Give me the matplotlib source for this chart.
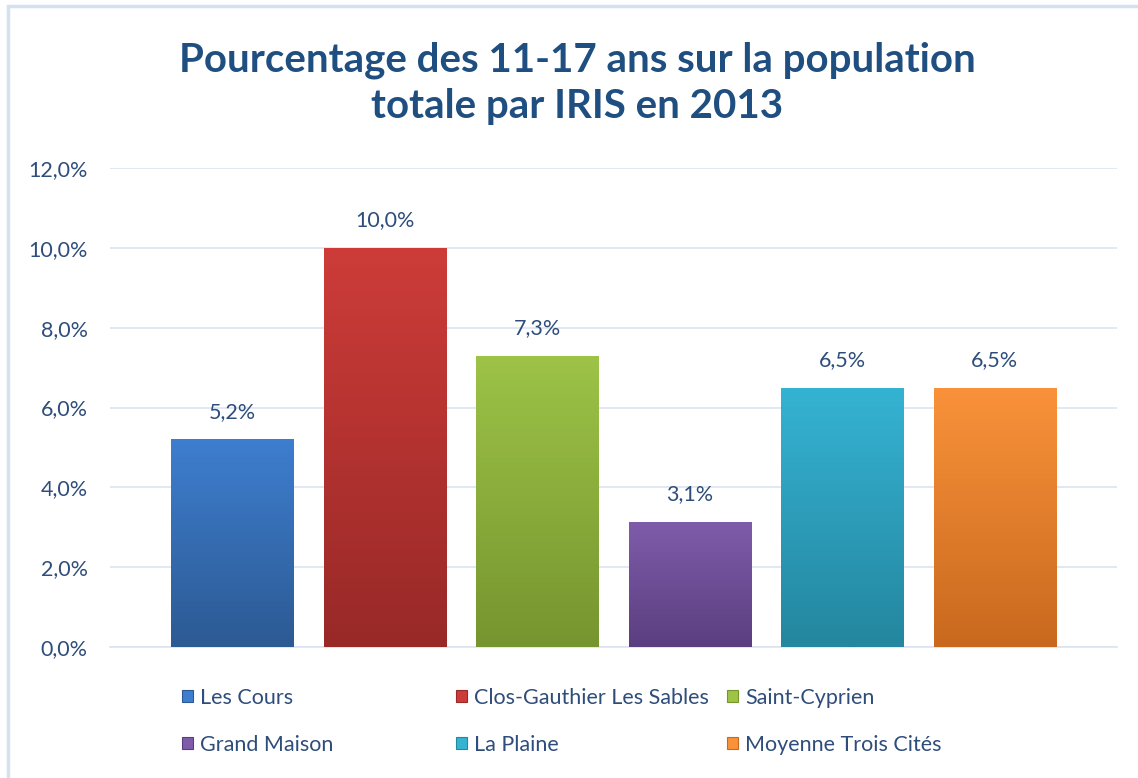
import numpy as np
import matplotlib.pyplot as plt
from matplotlib.colors import LinearSegmentedColormap
from matplotlib.patches import Rectangle

# data
iris = ['Les Cours', 'Clos-Gauthier Les Sables', 'Saint-Cyprien',
        'Grand Maison', 'La Plaine', 'Moyenne Trois Cités']
pct = [5.2, 10.0, 7.3, 3.13, 6.5, 6.5]
pct_labels = ['5,2%', '10,0%', '7,3%', '3,1%', '6,5%', '6,5%']
yticks = [0, 2, 4, 6, 8, 10, 12]
ytick_labels = ['0,0%', '2,0%', '4,0%', '6,0%', '8,0%', '10,0%', '12,0%']

# gradient top / bottom colours for each bar
top_cols = ['#3E7ECF', '#CD3C39', '#9DC347', '#7F5CAA', '#35B3D3', '#F9923A']
bot_cols = ['#2C5A93', '#982927', '#76952F', '#5B3E80', '#24869F', '#C9691E']

txt_col = '#2E4D7B'
title_col = '#1F4E80'
grid_col = '#DCE4F1'
fs = 15.5

plt.rcParams['font.family'] = ['Lato', 'DejaVu Sans']

fig = plt.figure(figsize=[11.38, 7.78], dpi=100)
ax = fig.add_axes([0.0967, 0.1684, 0.8848, 0.6156])

x = np.arange(len(iris))
bars = ax.bar(x, pct, width=0.8, color='none', zorder=3)

grad = np.linspace(0, 1, 256).reshape(-1, 1)
for b, c1, c2 in zip(bars, top_cols, bot_cols):
    cmap = LinearSegmentedColormap.from_list('g', [c2, c1])
    x0, y0 = b.get_x(), b.get_y()
    im = ax.imshow(grad, cmap=cmap, aspect='auto', origin='lower',
                   extent=[x0, x0 + b.get_width(), y0, y0 + b.get_height()],
                   zorder=3)
    im.set_clip_path(b)

for xi, v, lab in zip(x, pct, pct_labels):
    ax.annotate(lab, (xi, v), xytext=(0, 20), textcoords='offset points',
                ha='center', va='center', color=txt_col, fontsize=fs)

ax.set_xlim(-0.8, 5.8)
ax.set_ylim(0, 12)
ax.set_yticks(yticks)
ax.set_yticklabels(ytick_labels)
ax.set_xticks([])
ax.tick_params(axis='y', length=0, pad=16, labelsize=fs, labelcolor=txt_col)
ax.grid(axis='y', color=grid_col, linewidth=1.2, zorder=0)
for s in ['top', 'right', 'left']:
    ax.spines[s].set_visible(False)
ax.spines['bottom'].set_color(grid_col)
ax.spines['bottom'].set_linewidth(1.2)

fig.text(0.507, 0.893, 'Pourcentage des 11-17 ans sur la population\ntotale par IRIS en 2013',
         ha='center', va='center', fontsize=29, fontweight='bold',
         color=title_col, linespacing=1.32)

# legend, placed entry by entry like the Excel layout
leg_x = [182, 456, 727, 182, 456, 727]
leg_y = [698, 698, 698, 745, 745, 745]
for name, c1, c2, lx, ly in zip(iris, top_cols, bot_cols, leg_x, leg_y):
    h = Rectangle((0, 0), 1, 1, facecolor=c1, edgecolor=c2, linewidth=0.8)
    fig.legend([h], [name], loc='center left',
               bbox_to_anchor=(lx / 1138, 1 - ly / 778),
               frameon=False, fontsize=fs, labelcolor=txt_col,
               handlelength=0.5, handleheight=0.5, handletextpad=0.35,
               borderpad=0, borderaxespad=0)

# chart border
fig.patches.append(Rectangle((8 / 1138, -0.05), 1.1, 1 - 6 / 778 + 0.05,
                             transform=fig.transFigure, fill=False,
                             edgecolor='#D6E1F0', linewidth=2.5))

plt.savefig('out.png', dpi=100)
